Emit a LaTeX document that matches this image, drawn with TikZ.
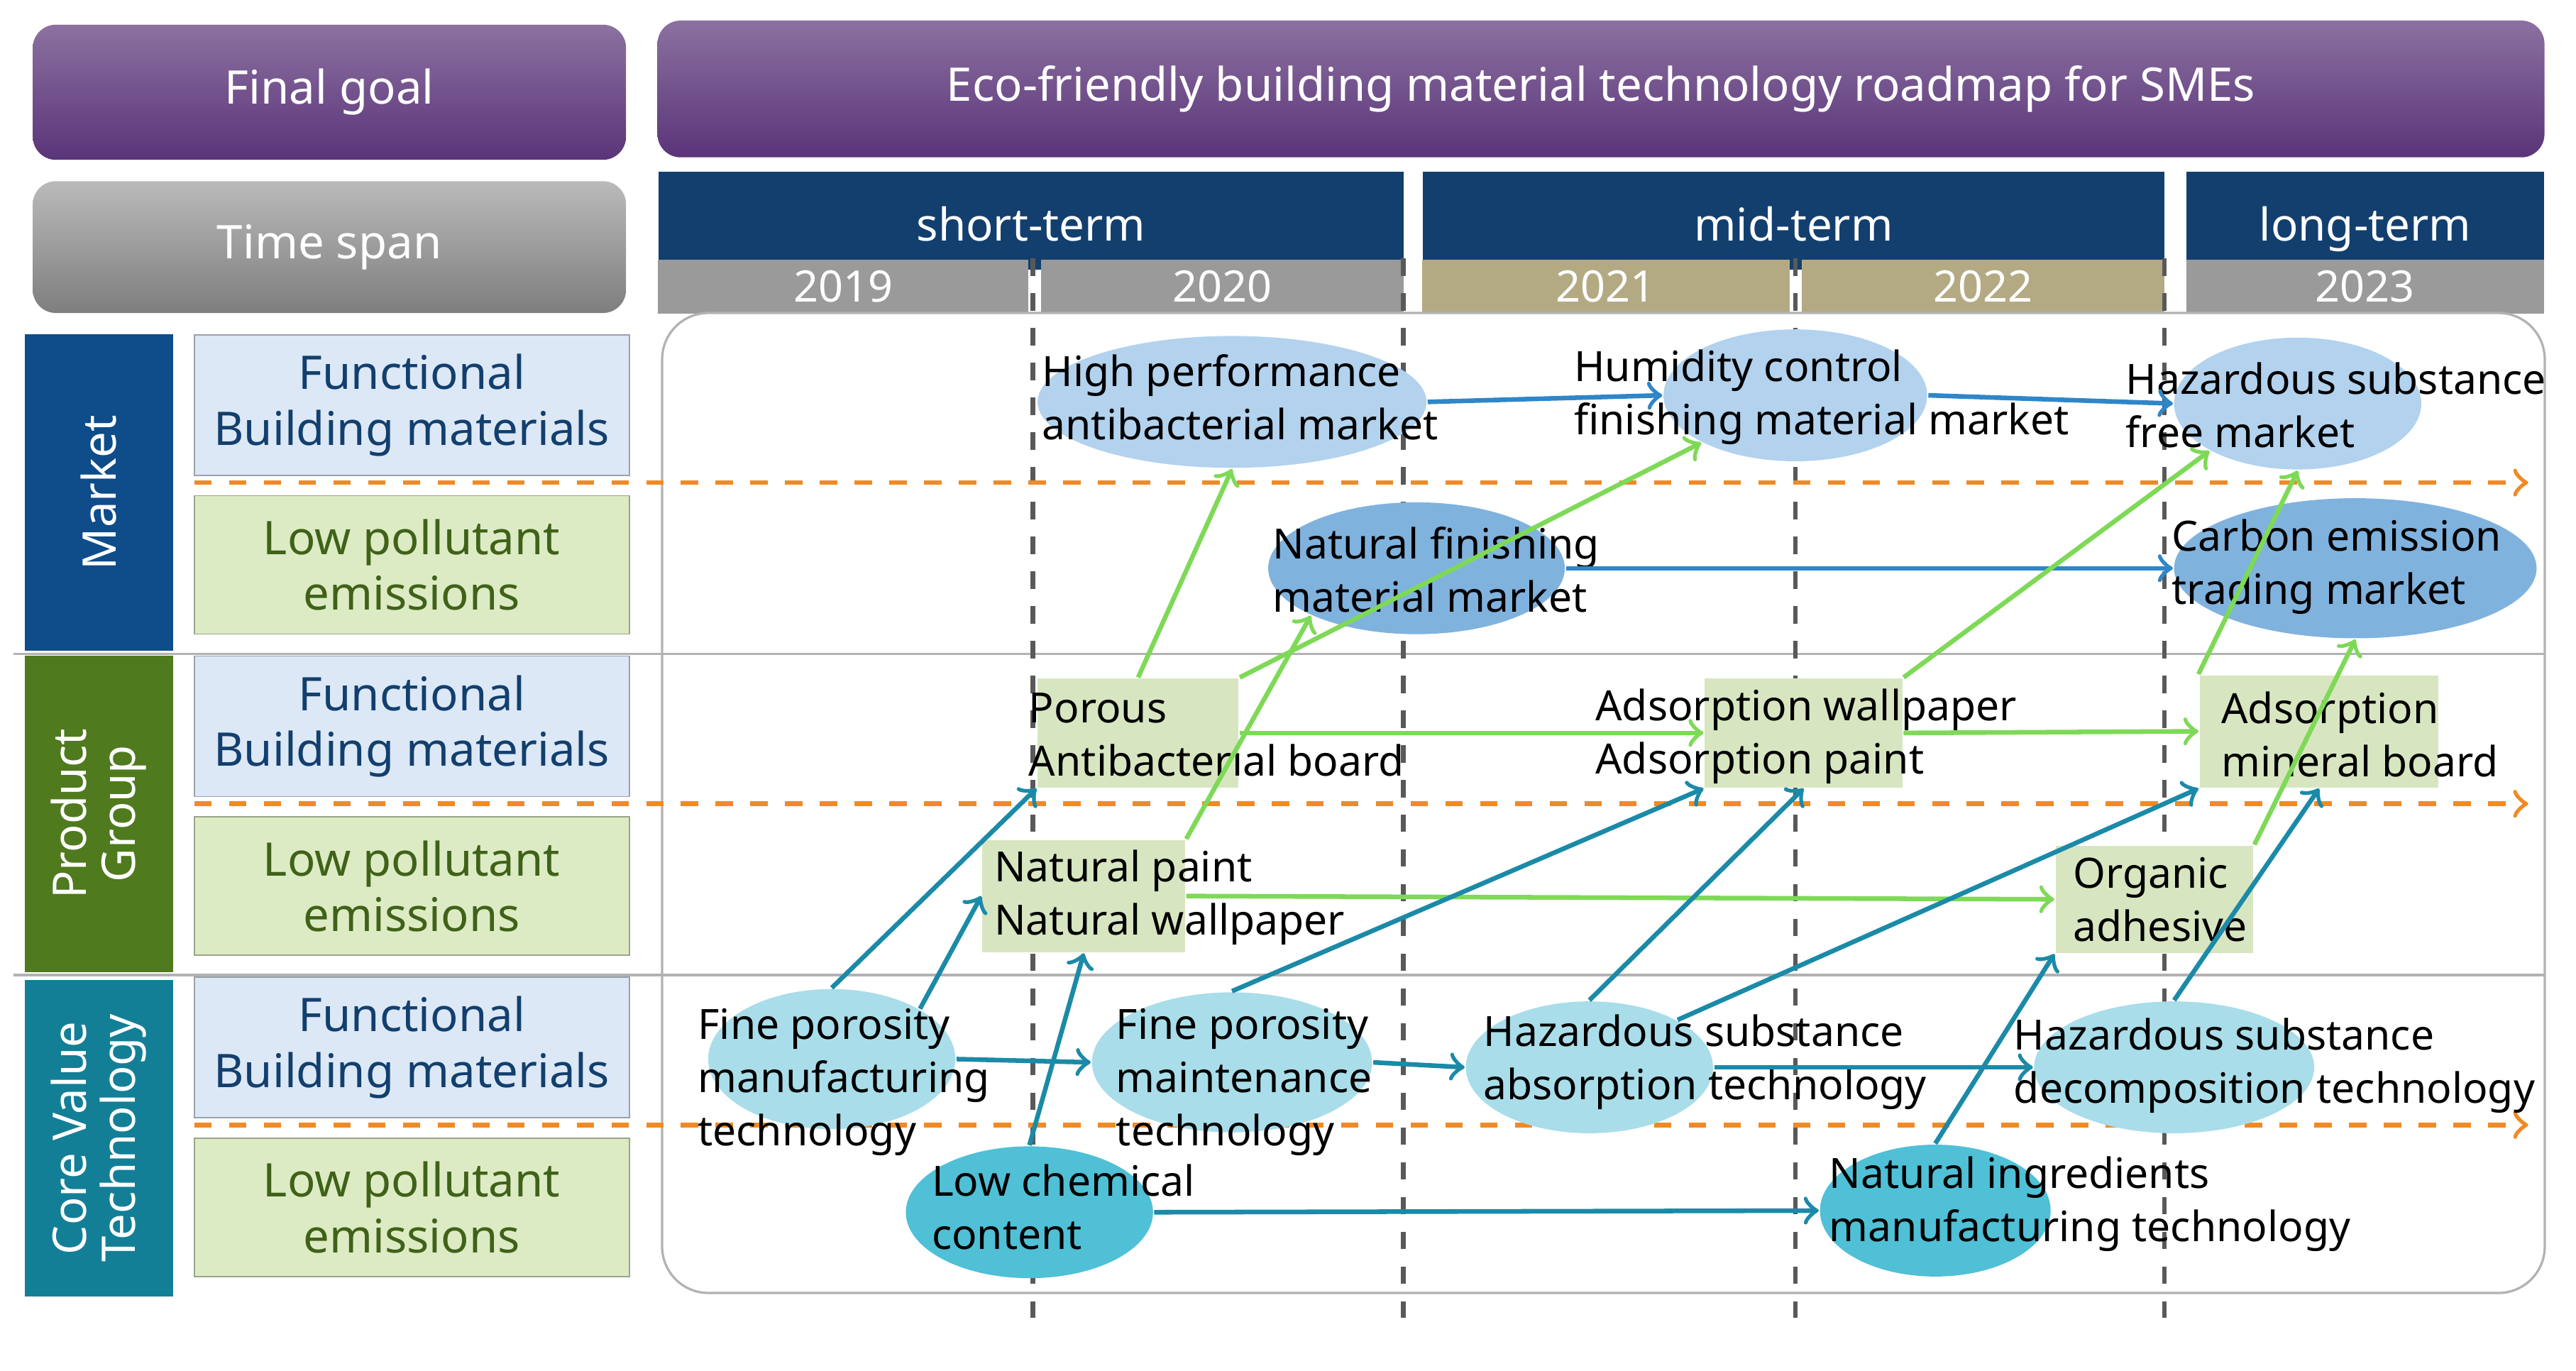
\documentclass[tikz,border=0pt]{standalone}
\usepackage{fontspec}
\setmainfont{Noto Sans}
\usepackage{tikz}
\usetikzlibrary{shapes.geometric, positioning}
\definecolor{colorG}{HTML}{5A3478}
\definecolor{colorS}{HTML}{8C8C8C}
\definecolor{colorH}{HTML}{123F6E}
\definecolor{colorY}{HTML}{9A9A9A}
\definecolor{colorK}{HTML}{B3AA84}
\definecolor{colorM}{HTML}{0E4C8A}
\definecolor{colorP}{HTML}{4F7A1E}
\definecolor{colorC}{HTML}{137F97}
\definecolor{colorB}{HTML}{DCE8F5}
\definecolor{colorL}{HTML}{DDEBC5}
\definecolor{colorE}{HTML}{B2D2EE}
\definecolor{colorD}{HTML}{80B2DE}
\definecolor{colorR}{HTML}{D7E6C0}
\definecolor{colorT}{HTML}{A9DDEA}
\definecolor{colorU}{HTML}{4FC0D6}
\definecolor{arrB}{HTML}{2F86C8}
\definecolor{arrG}{HTML}{7ED957}
\definecolor{arrT}{HTML}{1B8AA8}
\definecolor{arrO}{HTML}{F08A24}
\tikzset{
  txt/.style={font=\fontsize{7.2}{9.2}\selectfont, align=left, inner sep=0pt, anchor=west},
  bar/.style={rounded corners=4pt, font=\fontsize{8}{10}\selectfont, text=white},
  term/.style={fill=colorH, text=white, minimum height=0.47cm, text height=1.6ex, text depth=.3ex,
    font=\fontsize{7.8}{9}\selectfont},
  sub/.style={draw=#1!70!black, very thin, minimum width=2.64cm, minimum height=0.84cm,
    font=\fontsize{8}{9.6}\selectfont, align=center},
  cat/.style={fill=#1, text=white, rotate=90, minimum width=1.92cm, minimum height=0.9cm,
    font=\fontsize{8}{8.5}\selectfont, align=center},
  oval/.style={ellipse, fill=#1, draw=none},
  box/.style={fill=colorR, draw=none},
  mk/.style={->, arrB, thick},
  pg/.style={->, arrG, thick},
  tc/.style={->, arrT, thick},
}
\begin{document}
\begin{tikzpicture}[x=0.01cm, y=-0.01cm]
  \useasboundingbox (0,0) rectangle (1564,832);
  % header
  \node[bar, top color=colorG!70, bottom color=colorG, minimum width=3.6cm, minimum height=0.82cm] (goal) at (200,56) {Final goal};
  \node[bar, top color=colorG!70, bottom color=colorG, minimum width=11.45cm, minimum height=0.83cm] (title) at (972,54) {Eco-friendly building material technology roadmap for SMEs};
  \node[bar, top color=colorS!60, bottom color=colorS!90!black, minimum width=3.6cm, minimum height=0.8cm] (span) at (200,150) {Time span};
  % time bars
  \node[term, minimum width=4.52cm] (short) at (626,134) {short-term};
  \node[term, minimum width=4.5cm] (mid) at (1089,134) {mid-term};
  \node[term, minimum width=2.17cm] (long) at (1436,134) {long-term};
  \foreach \x/\w/\c/\yr in {512/225/colorY/2019, 742/220/colorY/2020, 975/223/colorK/2021, 1204/220/colorK/2022, 1436/217/colorY/2023}
    \node[fill=\c, text=white, minimum width=\w*0.01cm, minimum height=0.33cm, inner sep=0pt, font=\fontsize{7.5}{9}\selectfont] at (\x,174) {\yr};
  % panel
  \draw[gray!60, rounded corners=8pt] (402,190) rectangle (1545,785);
  \foreach \y in {397, 592}
    \draw[gray!60] (8,\y) -- (1545,\y);
  \foreach \x in {627, 852, 1090, 1314}
    \draw[gray!70!black, dashed, thick] (\x,157) -- (\x,800);
  % categories
  \node[cat=colorM] (market) at (60,299) {Market};
  \node[cat=colorP] (product) at (60,494) {Product\\Group};
  \node[cat=colorC] (core) at (60,691) {Core Value\\Technology};
  \foreach \y/\n in {0/m, 195/p, 390/c}{
    \node[sub=colorB, fill=colorB, text=colorH] (fun\n) at (250,246+\y) {Functional\\Building materials};
    \node[sub=colorL, fill=colorL, text=colorP!80!black] (low\n) at (250,343+\y) {Low pollutant\\emissions};
    \draw[->, arrO, dashed, thick] (118,293+\y) -- (1535,293+\y);
  }
  % market
  \node[oval=colorE, minimum width=2.36cm, minimum height=0.8cm] (hpm) at (748,244) {};
  \node[txt] at (632,241) {High performance\\antibacterial market};
  \node[oval=colorE, minimum width=1.6cm, minimum height=0.8cm] (hcm) at (1090,240) {};
  \node[txt] at (955,241) {Humidity control\\finishing material market};
  \node[oval=colorE, minimum width=1.5cm, minimum height=0.8cm] (hfm) at (1395,245) {};
  \node[txt] at (1290,246) {Hazardous substance\\free market};
  \node[oval=colorD, minimum width=1.8cm, minimum height=0.8cm] (nfm) at (860,345) {};
  \node[txt] at (772,346) {Natural finishing\\material market};
  \node[oval=colorD, minimum width=2.2cm, minimum height=0.85cm] (cem) at (1430,345) {};
  \node[txt] at (1318,344) {Carbon emission\\trading market};
  % product group
  \node[box, minimum width=1.22cm, minimum height=0.66cm] (pab) at (691,445) {};
  \node[txt] at (624,446) {Porous\\Antibacterial board};
  \node[box, minimum width=1.2cm, minimum height=0.66cm] (adw) at (1095,445) {};
  \node[txt] at (968,447) {Adsorption wallpaper\\Adsorption paint};
  \node[box, minimum width=1.45cm, minimum height=0.68cm] (amb) at (1408,444) {};
  \node[txt] at (1348,446) {Adsorption\\mineral board};
  \node[box, minimum width=1.23cm, minimum height=0.68cm] (npw) at (658,544) {};
  \node[txt] at (603,545) {Natural paint\\Natural wallpaper};
  \node[box, minimum width=1.2cm, minimum height=0.65cm] (oad) at (1308,546) {};
  \node[txt] at (1258,546) {Organic\\adhesive};
  % core value technology
  \node[oval=colorT, minimum width=1.5cm, minimum height=0.85cm] (fpm) at (505,643) {};
  \node[txt] at (423,657) {Fine porosity\\manufacturing\\technology};
  \node[oval=colorT, minimum width=1.7cm, minimum height=0.85cm] (fpt) at (748,645) {};
  \node[txt] at (677,657) {Fine porosity\\maintenance\\technology};
  \node[oval=colorT, minimum width=1.5cm, minimum height=0.8cm] (hsa) at (965,648) {};
  \node[txt] at (900,645) {Hazardous substance\\absorption technology};
  \node[oval=colorT, minimum width=1.7cm, minimum height=0.8cm] (hsd) at (1320,648) {};
  \node[txt] at (1222,647) {Hazardous substance\\decomposition technology};
  \node[oval=colorU, minimum width=1.5cm, minimum height=0.8cm] (lcc) at (625,736) {};
  \node[txt] at (565,733) {Low chemical\\content};
  \node[oval=colorU, minimum width=1.4cm, minimum height=0.8cm] (nim) at (1175,735) {};
  \node[txt] at (1110,731) {Natural ingredients\\manufacturing technology};
  % market arrows
  \draw[mk] (hpm.east) -- (hcm.west);
  \draw[mk] (hcm.east) -- (hfm.west);
  \draw[mk] (nfm.east) -- (cem.west);
  % product arrows
  \draw[pg] (pab.north) -- (hpm.south);
  \draw[pg] (pab.north east) -- (hcm.south west);
  \draw[pg] (pab.east) -- (adw.west);
  \draw[pg] (npw.north east) -- (nfm.south west);
  \draw[pg] (npw.east) -- (oad.west);
  \draw[pg] (adw.north east) -- (hfm.south west);
  \draw[pg] (adw.east) -- (amb.west);
  \draw[pg] (amb.north west) -- (hfm.south);
  \draw[pg] (oad.north east) -- (cem.south);
  % technology arrows
  \draw[tc] (fpm.north) -- (pab.south west);
  \draw[tc] (fpm.north east) -- (npw.west);
  \draw[tc] (fpm.east) -- (fpt.west);
  \draw[tc] (lcc.north) -- (npw.south);
  \draw[tc] (lcc.east) -- (nim.west);
  \draw[tc] (fpt.north) -- (adw.south west);
  \draw[tc] (fpt.east) -- (hsa.west);
  \draw[tc] (hsa.north) -- (adw.south);
  \draw[tc] (hsa.north east) -- (amb.south west);
  \draw[tc] (hsa.east) -- (hsd.west);
  \draw[tc] (hsd.north) -- (amb.south);
  \draw[tc] (nim.north) -- (oad.south west);
\end{tikzpicture}
\end{document}
